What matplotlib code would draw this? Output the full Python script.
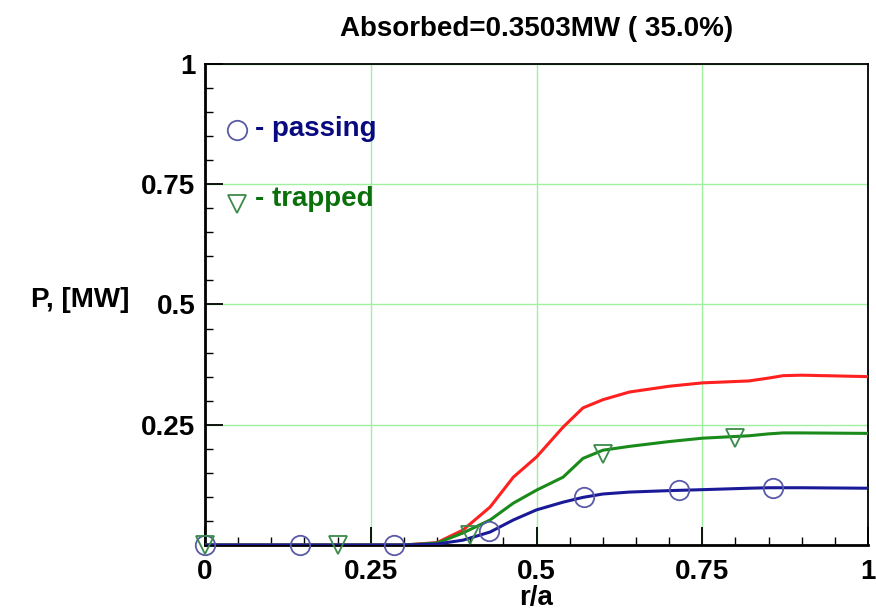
import numpy as np
import matplotlib
matplotlib.use("Agg")
import matplotlib.pyplot as plt
from matplotlib.ticker import MultipleLocator

plt.rcParams['font.family'] = ['Liberation Sans', 'DejaVu Sans']
plt.rcParams['font.weight'] = 'bold'
plt.rcParams['axes.titleweight'] = 'bold'
plt.rcParams['axes.labelweight'] = 'bold'

# curve samples (r/a, P [MW])
r_curve = [0.0, 0.30, 0.35, 0.389, 0.43, 0.465, 0.50, 0.54, 0.57, 0.60, 0.64,
           0.70, 0.75, 0.82, 0.85, 0.872, 0.90, 1.0]
p_total = [0.0, 0.0, 0.005, 0.031, 0.079, 0.141, 0.183, 0.245, 0.285, 0.302, 0.318,
           0.330, 0.337, 0.341, 0.347, 0.352, 0.353, 0.350]
p_trapped = [0.0, 0.0, 0.004, 0.025, 0.052, 0.087, 0.114, 0.141, 0.180, 0.197, 0.205,
             0.215, 0.222, 0.227, 0.231, 0.233, 0.233, 0.232]
p_passing = [0.0, 0.0, 0.002, 0.010, 0.027, 0.052, 0.073, 0.089, 0.099, 0.106, 0.110,
             0.113, 0.115, 0.118, 0.119, 0.119, 0.119, 0.118]

# marker positions
r_pass_mk = [0.0, 1/7, 2/7, 3/7, 4/7, 5/7, 6/7]
p_pass_mk = [0.0, 0.0, 0.0, 0.029, 0.099, 0.114, 0.119]
r_trap_mk = [0.0, 0.2, 0.4, 0.6, 0.8]
p_trap_mk = [0.0, 0.0, 0.02, 0.19, 0.222]

title = "Absorbed=0.3503MW ( 35.0%)"

red = '#ff2020'
green = '#1a8a1a'
navy = '#1a1a99'
circ = '#5a5aa8'
tri = '#3a8a4a'
fs = 20

fig = plt.figure(figsize=(8.76, 6.12), dpi=100)
ax = fig.add_axes([0.234, 0.1095, 0.757, 0.786])

ax.plot(r_curve, p_total, color=red, lw=2.2, zorder=3)
ax.plot(r_curve, p_trapped, color=green, lw=2.2, zorder=3)
ax.plot(r_curve, p_passing, color=navy, lw=2.2, zorder=3)
ax.plot(r_pass_mk, p_pass_mk, 'o', ms=14, mfc='none', mec=circ, mew=1.3, zorder=4, clip_on=False)
ax.plot(r_trap_mk, p_trap_mk, 'v', ms=13, mfc='none', mec=tri, mew=1.3, zorder=4, clip_on=False)

ax.set_xlim(0, 1)
ax.set_ylim(0, 1)
ax.xaxis.set_minor_locator(MultipleLocator(0.05))
ax.yaxis.set_minor_locator(MultipleLocator(0.05))
ax.set_xticks([0, 0.25, 0.5, 0.75, 1])
ax.set_xticklabels(['0', '0.25', '0.5', '0.75', '1'])
ax.set_yticks([0, 0.25, 0.5, 0.75, 1])
ax.set_yticklabels(['', '0.25', '0.5', '0.75', '1'])
ax.tick_params(which='major', direction='in', length=13, width=1.3, labelsize=fs,
               top=False, right=False)
ax.tick_params(axis='x', which='major', pad=10)
ax.tick_params(axis='y', which='major', pad=7)
ax.tick_params(which='minor', direction='in', length=6, width=1.0, top=False, right=False)
ax.grid(True, which='major', color='#a0f0a0', lw=1.0)
for s in ['left', 'bottom']:
    ax.spines[s].set_linewidth(2.0)
for s in ['top', 'right']:
    ax.spines[s].set_linewidth(1.3)

ax.set_title(title, fontsize=fs, pad=20)
ax.set_xlabel('r/a', fontsize=fs, labelpad=0)
fig.text(0.092, 0.51, 'P, [MW]', fontsize=fs, ha='center', va='center')

# legend
ax.plot([0.048], [0.862], 'o', ms=14, mfc='none', mec=circ, mew=1.3, transform=ax.transAxes)
ax.text(0.075, 0.865, '- passing', color='#0a0a80', fontsize=fs, va='center',
        transform=ax.transAxes)
ax.plot([0.048], [0.709], 'v', ms=13, mfc='none', mec=tri, mew=1.3, transform=ax.transAxes)
ax.text(0.075, 0.72, '- trapped', color='#0a700a', fontsize=fs, va='center',
        transform=ax.transAxes)

fig.savefig('out.png', dpi=100)
